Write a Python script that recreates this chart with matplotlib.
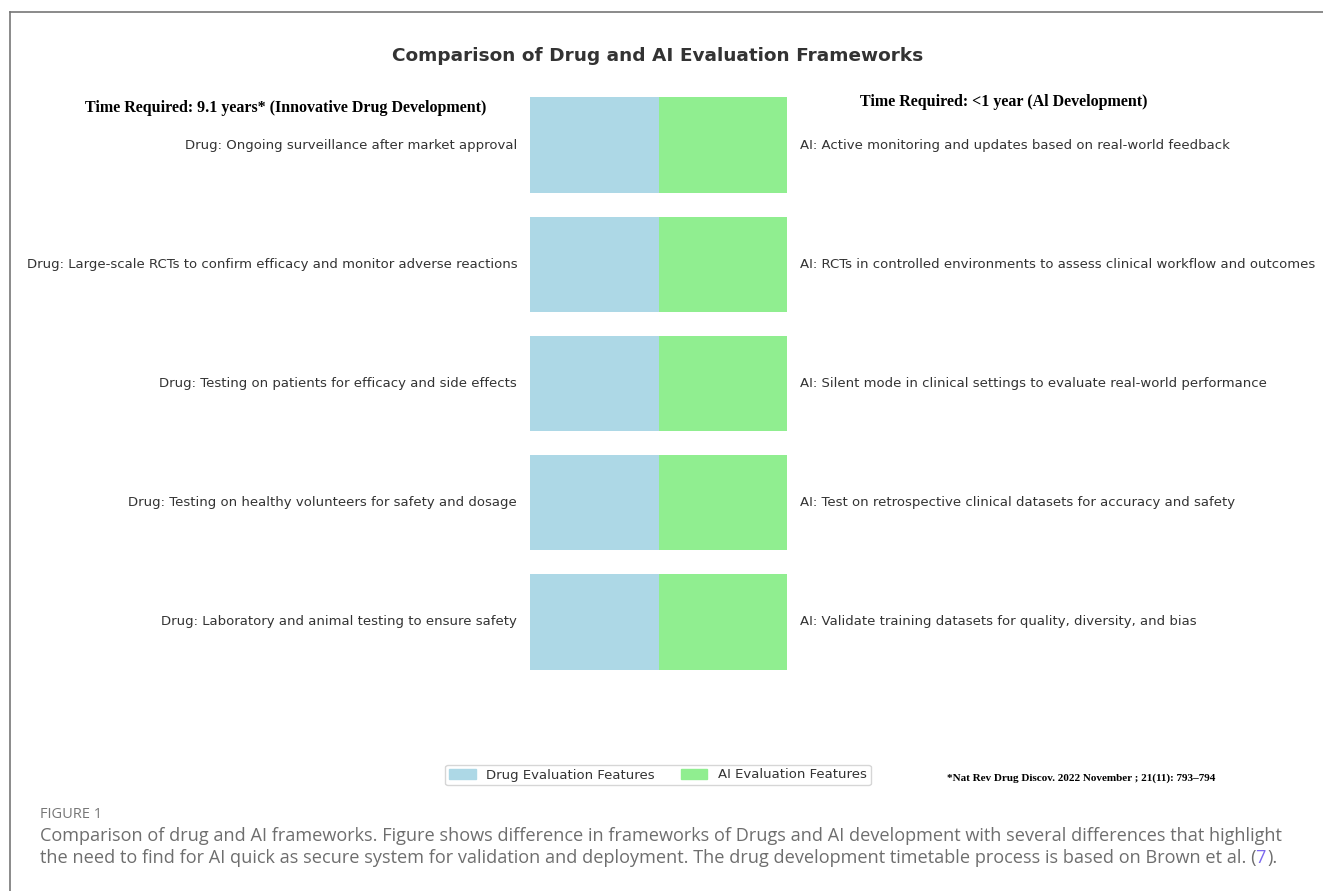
import matplotlib.pyplot as plt
from matplotlib.lines import Line2D
from matplotlib.patches import Patch

# stages, bottom to top
drug_steps = [
    "Drug: Laboratory and animal testing to ensure safety",
    "Drug: Testing on healthy volunteers for safety and dosage",
    "Drug: Testing on patients for efficacy and side effects",
    "Drug: Large-scale RCTs to confirm efficacy and monitor adverse reactions",
    "Drug: Ongoing surveillance after market approval",
]
ai_steps = [
    "AI: Validate training datasets for quality, diversity, and bias",
    "AI: Test on retrospective clinical datasets for accuracy and safety",
    "AI: Silent mode in clinical settings to evaluate real-world performance",
    "AI: RCTs in controlled environments to assess clinical workflow and outcomes",
    "AI: Active monitoring and updates based on real-world feedback",
]
drug_values = [-1, -1, -1, -1, -1]
ai_values = [1, 1, 1, 1, 1]

title = "Comparison of Drug and AI Evaluation Frameworks"
drug_header = "Time Required: 9.1 years* (Innovative Drug Development)"
ai_header = "Time Required: <1 year (Al Development)"
footnote = "*Nat Rev Drug Discov. 2022 November ; 21(11): 793\u2013794"
caption_lines = [
    "Comparison of drug and AI frameworks. Figure shows difference in frameworks of Drugs and AI development with several differences that highlight",
    "the need to find for AI quick as secure system for validation and deployment. The drug development timetable process is based on Brown et al. (",
]

W, H = 1323, 891
fig = plt.figure(figsize=(W / 100, H / 100), dpi=100)
txt = "#333333"

# axes placed so bars land where they are in the reference
ax = fig.add_axes([530 / W, 1 - 693.4 / H, 257 / W, (693.4 - 73.6) / H])
y = range(len(drug_steps))
ax.barh(y, drug_values, height=0.8, color="lightblue", label="Drug Evaluation Features")
ax.barh(y, ai_values, height=0.8, color="lightgreen", label="AI Evaluation Features")
ax.set_xlim(-1, 1)
ax.set_ylim(-0.6, 4.6)
ax.axis("off")

for i in y:
    ax.text(-1.1, i, drug_steps[i], ha="right", va="center", fontsize=9.5, color=txt)
    ax.text(1.1, i, ai_steps[i], ha="left", va="center", fontsize=9.5, color=txt)

fig.text(658 / W, 1 - 56 / H, title, ha="center", va="center",
         fontsize=13.3, fontweight="bold", color=txt)
fig.text(286 / W, 1 - 108 / H, drug_header, ha="center", va="center",
         fontsize=11.5, fontweight="bold", family="Liberation Serif", color="black")
fig.text(1004 / W, 1 - 102 / H, ai_header, ha="center", va="center",
         fontsize=11.5, fontweight="bold", family="Liberation Serif", color="black")
fig.text(1081 / W, 1 - 778 / H, footnote, ha="center", va="center",
         fontsize=8, fontweight="bold", family="Liberation Serif", color="black")

handles = [Patch(color="lightblue"), Patch(color="lightgreen")]
fig.legend(handles, ["Drug Evaluation Features", "AI Evaluation Features"],
           loc="center", bbox_to_anchor=(658 / W, 1 - 775 / H), ncol=2,
           fontsize=9.5, frameon=True, labelcolor=txt, handlelength=2,
           columnspacing=2, borderpad=0.3)

# page frame lines (top and left)
fig.add_artist(Line2D([9.5 / W, 1], [1 - 12 / H, 1 - 12 / H], color="#777777", lw=1.2))
fig.add_artist(Line2D([9.5 / W, 9.5 / W], [0, 1 - 12 / H], color="#777777", lw=1.2))

# caption
cap = "#6e6e6e"
cap_size = 13.1
fig.text(40 / W, 1 - 814 / H, "FIGURE 1", ha="left", va="center",
         fontsize=10.5, family="Open Sans", color="#777777")
fig.text(40 / W, 1 - 836 / H, caption_lines[0], ha="left", va="center",
         fontsize=cap_size, family="Open Sans", color=cap)
t2 = fig.text(40 / W, 1 - 858 / H, caption_lines[1], ha="left", va="center",
              fontsize=cap_size, family="Open Sans", color=cap)
fig.canvas.draw()
bb = t2.get_window_extent()
t3 = fig.text((bb.x1 - 1) / W, 1 - 858 / H, "7", ha="left", va="center",
              fontsize=cap_size, family="Open Sans", color="#7b68ee")
fig.canvas.draw()
bb = t3.get_window_extent()
fig.text((bb.x1 + 2) / W, 1 - 858 / H, ").", ha="left", va="center",
         fontsize=cap_size, family="Open Sans", color=cap)

fig.savefig("out.png", dpi=100, facecolor="white")
